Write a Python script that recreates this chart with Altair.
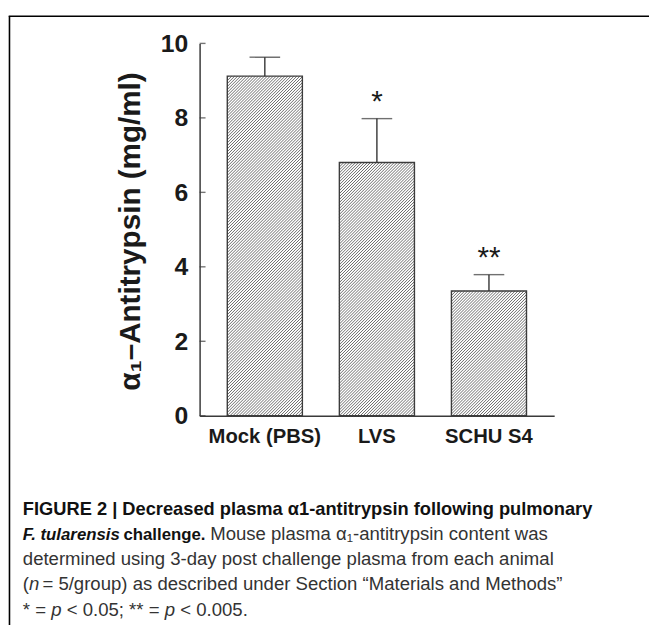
import altair as alt
import pandas as pd

# ---- data ----
groups = ["Mock (PBS)", "LVS", "SCHU S4"]
means = [9.12, 6.80, 3.35]
errors = [0.51, 1.18, 0.44]
stars = ["", "*", "**"]
y_ticks = [0, 2, 4, 6, 8, 10]

df = pd.DataFrame({"group": groups, "mean": means, "err": errors, "star": stars})
df["top"] = df["mean"] + df["err"]

FONT = "Liberation Sans"
W_PLOT, H_PLOT = 359, 377
P_IN, P_OUT = 0.33, 0.247
STEP = W_PLOT / (len(groups) - P_IN + 2 * P_OUT)
BAND = STEP * (1 - P_IN)
PX_PER_UNIT = H_PLOT / 10.0

xs = alt.Scale(domain=groups, paddingInner=P_IN, paddingOuter=P_OUT)
ys = alt.Scale(domain=[0, 10], nice=False)
X = alt.X("group:N", scale=xs, sort=groups,
          axis=alt.Axis(title=None, labelAngle=0, ticks=False, tickSize=0, labelPadding=11,
                        labelFont=FONT, labelFontSize=20.5, labelFontWeight="bold",
                        labelColor="#1a1a1a", domainColor="#3a3a3a", domainWidth=1.5))
Y = alt.Y("mean:Q", scale=ys,
          axis=alt.Axis(values=y_ticks, grid=False, ticks=False, tickSize=0, labelPadding=12,
                        labelFont=FONT, labelFontSize=25, labelFontWeight="bold",
                        labelColor="#1a1a1a", domainColor="#3a3a3a", domainWidth=1.5,
                        title="α₁–Antitrypsin (mg/ml)", titleFont=FONT, titleFontSize=30,
                        titleFontWeight="bold", titleColor="#1a1a1a", titleAngle=270,
                        titleX=-61, titleY=190, titleAlign="center",
                        titleBaseline="alphabetic"))
XN = alt.X("group:N", scale=xs, sort=groups)


def hatch_shape(h_px, w_px=BAND, period_h=3.0):
    """'////' hatching glyph: a path in the [-1,1] symbol box, scaled by the bar height."""
    r = h_px / 2.0
    w = (w_px / 2.0) / r
    dc = period_h / r
    parts = []
    c = -w - 1 + dc / 2
    while c < w + 1:
        xa = max(-w, c - 1)
        xb = min(w, c + 1)
        if xb > xa:
            parts.append("M%.4f,%.4fL%.4f,%.4f" % (xa, c - xa, xb, c - xb))
        c += dc
    return "".join(parts), (2 * r) ** 2


base_bars = alt.Chart(df).mark_bar(fill="#ffffff").encode(x=X, y=Y)

hatch_layers = []
for g, m in zip(groups, means):
    shape, size = hatch_shape(m * PX_PER_UNIT)
    hatch_layers.append(
        alt.Chart(df).transform_filter(alt.datum.group == g)
        .transform_calculate(mid="datum.mean / 2")
        .mark_point(shape=shape, size=size, filled=False, color="#5a5a5a",
                    strokeWidth=0.9, opacity=1, strokeCap="butt")
        .encode(x=XN, y=alt.Y("mid:Q", scale=ys))
    )

outline = alt.Chart(df).mark_bar(fillOpacity=0, stroke="#3c3c3c", strokeWidth=1.4).encode(
    x=XN, y=alt.Y("mean:Q", scale=ys))

err_rule = alt.Chart(df).mark_rule(color="#333333", strokeWidth=1.4).encode(
    x=XN, y=alt.Y("mean:Q", scale=ys), y2="top:Q")
err_cap = alt.Chart(df).mark_tick(color="#333333", thickness=1.4, size=31).encode(
    x=XN, y=alt.Y("top:Q", scale=ys))
star_txt = alt.Chart(df).mark_text(font=FONT, fontSize=30, dy=-8, baseline="alphabetic",
                                   color="#1a1a1a").encode(
    x=XN, y=alt.Y("top:Q", scale=ys), text="star:N")

tick_df = pd.DataFrame({"v": y_ticks})
inner_ticks = alt.Chart(tick_df).mark_tick(color="#3a3a3a", thickness=1.4, size=6,
                                           orient="horizontal").encode(
    y=alt.Y("v:Q", scale=ys), x=alt.value(3))

one = pd.DataFrame({"k": [0]})

AR = {" ": 278, "(": 333, "n": 556, "*": 389, "=": 584, "p": 556, "<": 584,
      "0": 556, ".": 278, "5": 556, ";": 278}
AB = {" ": 278, "F": 611, ".": 278, "t": 333, "u": 611, "l": 278, "a": 556, "r": 389,
      "e": 556, "n": 611, "s": 556, "i": 278, "c": 556, "h": 611, "g": 611}


def tw(s, table, size):
    return sum(table[ch] for ch in s) * size / 1000.0


def txt(s, x, y, size, weight="normal", style="normal", color="#333333"):
    return alt.Chart(one).mark_text(text=s, align="left", baseline="alphabetic", font=FONT,
                                    fontSize=size, fontWeight=weight, fontStyle=style,
                                    color=color).encode(x=alt.value(x), y=alt.value(y))


def run(segments, x, y, size, table, color, weight="normal"):
    """Place text segments one after the other; spaces are turned into offsets."""
    out = []
    for s, st in segments:
        lead = len(s) - len(s.lstrip(" "))
        x += tw(" " * lead, table, size)
        core = s.strip(" ")
        if core:
            out.append(txt(core, x, y, size, weight, st, color))
        x += tw(s[lead:], table, size)
    return out, x


X0 = -179
BASE = [477, 502.5, 528, 553.5, 579.5]
REG = 18.8
BCOL = "#111111"
RCOL = "#333333"

cap = []
cap.append(txt("FIGURE 2 | Decreased plasma α1-antitrypsin following pulmonary",
               X0, BASE[0], 18.5, "bold", color=BCOL))
cap.append(txt("F. tularensis", X0, BASE[1], 17, "bold", "italic", BCOL))
x = X0 + tw("F. tularensis ", AB, 17) - 3
cap.append(txt("challenge.", x, BASE[1], 17, "bold", color=BCOL))
x += tw("challenge. ", AB, 17)
cap.append(txt("Mouse plasma α₁-antitrypsin content was", x, BASE[1], REG, color=RCOL))
cap.append(txt("determined using 3-day post challenge plasma from each animal",
               X0, BASE[2], REG, color=RCOL))
parts, x = run([("(", "normal"), ("n", "italic")], X0, BASE[3], REG, AR, RCOL)
cap += parts
x += tw(" ", AR, REG) * 0.6
cap.append(txt("= 5/group) as described under Section “Materials and Methods”",
               x, BASE[3], REG, color=RCOL))
parts, x = run([("* = ", "normal"), ("p", "italic"), (" < 0.05; ** = ", "normal"),
                ("p", "italic"), (" < 0.005.", "normal")], X0, BASE[4], REG, AR, RCOL)
cap += parts

frame_v = alt.Chart(one).mark_rule(color="#000000", strokeWidth=1.6).encode(
    x=alt.value(-192.5), y=alt.value(-27.5), y2=alt.value(800))
frame_h = alt.Chart(one).mark_rule(color="#000000", strokeWidth=1.6).encode(
    x=alt.value(-193.3), x2=alt.value(900), y=alt.value(-27.5))

chart = alt.layer(base_bars, *hatch_layers, outline, err_rule, err_cap, star_txt, inner_ticks,
                  *cap, frame_v, frame_h).properties(
    width=W_PLOT, height=H_PLOT,
    autosize=alt.AutoSizeParams(type="none"),
    padding={"left": 194, "top": 32, "right": 96, "bottom": 208},
).configure_view(stroke=None)

chart.save("out.html", embed_options={"renderer": "svg", "actions": False})
